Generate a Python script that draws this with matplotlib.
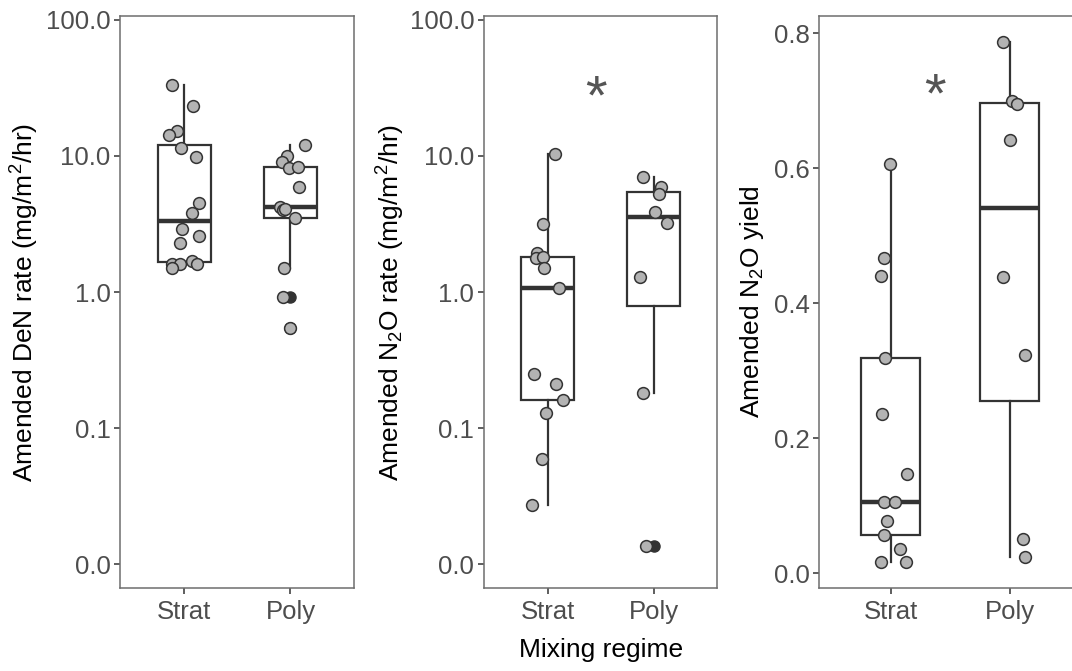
import numpy as np
import matplotlib
matplotlib.use("Agg")
import matplotlib.pyplot as plt
from matplotlib import cbook

plt.rcParams['font.family'] = ['Liberation Sans', 'DejaVu Sans']
plt.rcParams['mathtext.fontset'] = 'custom'
plt.rcParams['mathtext.rm'] = 'Liberation Sans'
plt.rcParams['mathtext.default'] = 'regular'

groups = ["Strat", "Poly"]

# denitrification rate (mg/m2/hr)
den_strat = [33.3, 23.3, 15.3, 14.3, 11.4, 9.8, 4.5, 3.8, 2.9, 2.6, 2.3, 1.6, 1.6, 1.7, 1.6, 1.5]
den_strat_jit = [-0.11, 0.08, -0.07, -0.145, -0.03, 0.11, 0.14, 0.07, -0.02, 0.14, -0.04, -0.115, -0.04, 0.07, 0.12, -0.115]
den_poly = [12.0, 10.0, 9.0, 8.2, 8.3, 5.9, 4.2, 4.0, 4.1, 3.5, 1.5, 0.92, 0.54]
den_poly_jit = [0.14, -0.03, -0.08, -0.01, 0.07, 0.08, -0.10, -0.07, -0.05, 0.04, -0.06, -0.07, 0.0]

# N2O rate (mg/m2/hr)
n2o_strat = [10.4, 3.16, 1.94, 1.78, 1.8, 1.5, 1.07, 0.25, 0.21, 0.16, 0.13, 0.059, 0.027]
n2o_strat_jit = [0.07, -0.045, -0.10, -0.11, -0.045, -0.035, 0.105, -0.13, 0.08, 0.145, -0.015, -0.055, -0.15]
n2o_poly = [7.0, 5.9, 5.25, 3.9, 3.2, 1.29, 0.18, 0.0135]
n2o_poly_jit = [-0.105, 0.07, 0.055, 0.015, 0.13, -0.125, -0.10, -0.07]

# N2O yield
yld_strat = [0.606, 0.467, 0.44, 0.319, 0.236, 0.147, 0.106, 0.106, 0.078, 0.057, 0.036, 0.017, 0.017]
yld_strat_jit = [-0.01, -0.055, -0.08, -0.045, -0.07, 0.14, -0.055, 0.04, -0.035, -0.06, 0.075, -0.085, 0.13]
yld_poly = [0.787, 0.70, 0.695, 0.642, 0.439, 0.323, 0.051, 0.024]
yld_poly_jit = [-0.055, 0.015, 0.065, 0.005, -0.055, 0.125, 0.115, 0.13]

log_ticks = [0.01, 0.1, 1, 10, 100]
log_labels = ["0.0", "0.1", "1.0", "10.0", "100.0"]
lin_ticks = [0.0, 0.2, 0.4, 0.6, 0.8]
lin_labels = ["0.0", "0.2", "0.4", "0.6", "0.8"]

line_col = "#333333"
pt_fill = "#b3b3b3"


def box_stats(vals, log):
    v = np.log10(vals) if log else np.asarray(vals)
    st = cbook.boxplot_stats(v, whis=1.5)[0]
    if log:
        for k in ["med", "q1", "q3", "whislo", "whishi", "mean"]:
            st[k] = 10 ** st[k]
        st["fliers"] = 10 ** st["fliers"]
    return st


def panel(ax, strat, strat_jit, poly, poly_jit, log):
    stats = [box_stats(strat, log), box_stats(poly, log)]
    ax.bxp(stats, positions=[1, 2], widths=0.5, showcaps=False, patch_artist=True,
           boxprops=dict(facecolor="white", edgecolor=line_col, linewidth=1.6),
           whiskerprops=dict(color=line_col, linewidth=1.6),
           medianprops=dict(color=line_col, linewidth=3.2),
           flierprops=dict(marker="o", markerfacecolor=line_col, markeredgecolor=line_col,
                           markersize=8),
           zorder=2)
    for i, (vals, jit) in enumerate([(strat, strat_jit), (poly, poly_jit)]):
        ax.scatter(np.array(jit) + i + 1, vals, s=72, c=pt_fill, edgecolors=line_col,
                   linewidths=1.1, zorder=3)
    if log:
        ax.set_yscale("log")
        ax.set_ylim(10 ** -2.174, 10 ** 2.027)
        ax.set_yticks(log_ticks)
        ax.set_yticklabels(log_labels)
        ax.minorticks_off()
    else:
        ax.set_ylim(-0.0213, 0.8252)
        ax.set_yticks(lin_ticks)
        ax.set_yticklabels(lin_labels)
    ax.set_xlim(0.4, 2.6)
    ax.set_xticks([1, 2])
    ax.set_xticklabels(groups)
    ax.tick_params(length=4, width=1.1, color=line_col, labelcolor="#4d4d4d",
                   labelsize=18.5, pad=3)
    ax.tick_params(axis="x", pad=5)
    for s in ax.spines.values():
        s.set_color("#6e6e6e")
        s.set_linewidth(1.1)


fig = plt.figure(figsize=(10.72, 6.71), dpi=100)
ax1 = fig.add_axes([0.1122, 0.1241, 0.2183, 0.8516])
ax2 = fig.add_axes([0.4515, 0.1241, 0.2176, 0.8516])
ax3 = fig.add_axes([0.7643, 0.1241, 0.2442, 0.8516])

panel(ax1, den_strat, den_strat_jit, den_poly, den_poly_jit, True)
panel(ax2, n2o_strat, n2o_strat_jit, n2o_poly, n2o_poly_jit, True)
panel(ax3, yld_strat, yld_strat_jit, yld_poly, yld_poly_jit, False)

ax1.set_ylabel("Amended DeN rate (mg/m$^2$/hr)", fontsize=19)
ax2.set_ylabel("Amended N$_2$O rate (mg/m$^2$/hr)", fontsize=19)
ax3.set_ylabel("Amended N$_2$O yield", fontsize=19)
ax1.yaxis.set_label_coords(-0.339, 0.5)
ax2.yaxis.set_label_coords(-0.33, 0.5)
ax3.yaxis.set_label_coords(-0.204, 0.5)
ax2.set_xlabel("Mixing regime", fontsize=19, labelpad=10)

# significance markers
ax2.text(1.46, 26, "*", fontsize=40, color="#555555", ha="center", va="center")
ax3.text(1.37, 0.705, "*", fontsize=40, color="#555555", ha="center", va="center")

fig.savefig("out.png", dpi=100)
